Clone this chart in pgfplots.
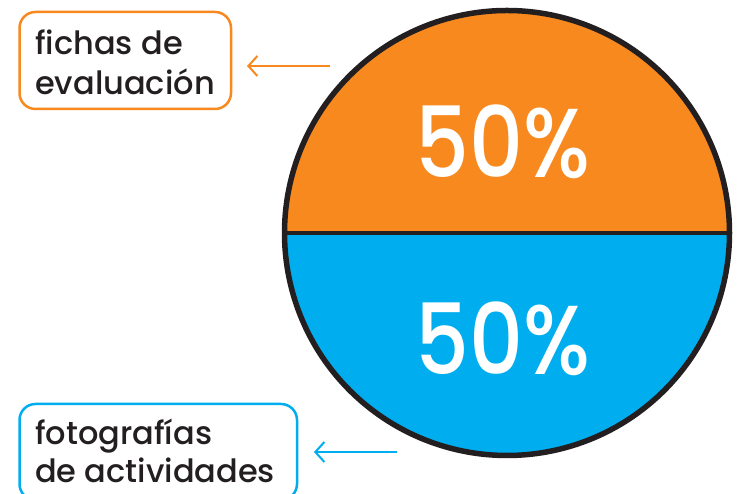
\documentclass[border=0pt]{standalone}
\usepackage{pgfplots}
\pgfplotsset{compat=1.18}
\usepackage{pgfplotstable}
\usepackage{fontspec}
\setmainfont{Poppins}[UprightFont=* Medium]
\usetikzlibrary{arrows.meta}
\definecolor{pieorange}{HTML}{F7891F}
\definecolor{pieblue}{HTML}{00AEEF}
\definecolor{pieline}{HTML}{231F20}
\definecolor{txt}{HTML}{231F20}
\pgfplotstableread{
label value
evaluacion 50
actividades 50
}\slices
\pgfplotstablegetelem{0}{value}\of\slices
\pgfmathsetmacro{\angA}{3.6*\pgfplotsretval}
\begin{document}
\begin{tikzpicture}[x=1pt,y=1pt]
\useasboundingbox (0,0) rectangle (742,494);
\begin{axis}[at={(507pt,261pt)}, anchor=center, scale only axis,
  width=445pt, height=445pt, xmin=-1, xmax=1, ymin=-1, ymax=1,
  hide axis, clip=false]
\addplot[fill=pieorange, draw=none, domain=0:\angA, samples=181] ({cos(x)},{sin(x)}) \closedcycle;
\addplot[fill=pieblue, draw=none, domain=\angA:360, samples=181] ({cos(x)},{sin(x)}) \closedcycle;
\addplot[draw=pieline, line width=5.5pt, domain=0:360, samples=361] ({cos(x)},{sin(x)});
\addplot[draw=pieline, line width=4.5pt] coordinates {(-1,0) (1,0)};
\end{axis}
\node[anchor=base, white, font=\fontsize{98}{98}\selectfont, inner sep=0] at (503,316) {\scalebox{0.86}[1]{50\%}};
\node[anchor=base, white, font=\fontsize{98}{98}\selectfont, inner sep=0] at (503,119) {\scalebox{0.86}[1]{50\%}};
% label boxes
\draw[pieorange, line width=2.5pt, rounded corners=16pt] (19.5,385) rectangle (231,482);
\draw[pieblue, line width=2.5pt, rounded corners=16pt] (19.5,-6) rectangle (297,90);
\node[anchor=base west, txt, font=\fontsize{32}{32}\selectfont, inner sep=0] at (35,439) {fichas de};
\node[anchor=base west, txt, font=\fontsize{32}{32}\selectfont, inner sep=0] at (35,399) {evaluación};
\node[anchor=base west, txt, font=\fontsize{32}{32}\selectfont, inner sep=0] at (35,49) {fotografías};
\node[anchor=base west, txt, font=\fontsize{32}{32}\selectfont, inner sep=0] at (35,11) {de actividades};
% arrows
\draw[pieorange, line width=2pt, -{Straight Barb[length=9pt,width=20pt]}] (330,428) -- (247,428);
\draw[pieblue, line width=2pt, -{Straight Barb[length=9pt,width=20pt]}] (397,42) -- (314,42);
\end{tikzpicture}
\end{document}
